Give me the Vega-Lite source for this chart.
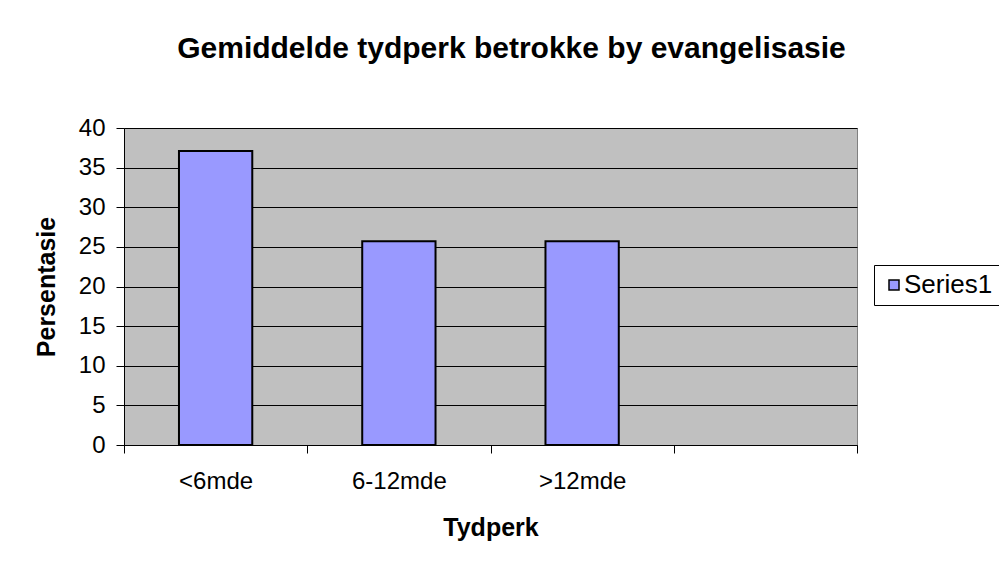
{
  "$schema": "https://vega.github.io/schema/vega-lite/v6.json",
  "autosize": {"type": "none"},
  "padding": {"left": 124, "top": 128, "right": 142, "bottom": 117},
  "width": 733,
  "height": 317,
  "background": "white",
  "title": {
    "text": "Gemiddelde tydperk betrokke by evangelisasie",
    "font": "Liberation Sans",
    "fontSize": 30,
    "fontWeight": "bold",
    "color": "black",
    "anchor": "middle",
    "dx": 21,
    "offset": 52
  },
  "data": {
    "values": [
      {"tydperk": "<6mde", "persentasie": 37.1, "reeks": "Series1"},
      {"tydperk": "6-12mde", "persentasie": 25.7, "reeks": "Series1"},
      {"tydperk": ">12mde", "persentasie": 25.7, "reeks": "Series1"}
    ]
  },
  "mark": {"type": "bar", "stroke": "black", "strokeWidth": 2, "width": {"band": 0.4}},
  "encoding": {
    "x": {
      "field": "tydperk",
      "type": "nominal",
      "sort": null,
      "scale": {"domain": ["<6mde", "6-12mde", ">12mde", " "], "paddingInner": 0, "paddingOuter": 0},
      "axis": {
        "title": "Tydperk",
        "labelAngle": 0,
        "tickBand": "extent",
        "tickSize": 8,
        "tickColor": "black",
        "domainColor": "black",
        "labelPadding": 16,
        "titlePadding": 22
      }
    },
    "y": {
      "field": "persentasie",
      "type": "quantitative",
      "scale": {"domain": [0, 40], "nice": false},
      "axis": {
        "title": "Persentasie",
        "values": [0, 5, 10, 15, 20, 25, 30, 35, 40],
        "tickSize": 8,
        "tickColor": "black",
        "domainColor": "black",
        "grid": true,
        "gridColor": "black",
        "gridOpacity": 1,
        "labelPadding": 11,
        "titlePadding": 19
      }
    },
    "color": {
      "field": "reeks",
      "type": "nominal",
      "scale": {"range": ["#9999FF"]},
      "legend": {
        "title": null,
        "orient": "none",
        "legendX": 750,
        "legendY": 137,
        "symbolType": "square",
        "symbolSize": 100,
        "symbolStrokeColor": "black",
        "symbolStrokeWidth": 1.5,
        "symbolOpacity": 1,
        "labelFontSize": 26,
        "labelFont": "Liberation Sans",
        "labelColor": "black",
        "labelOffset": -3,
        "strokeColor": "black",
        "padding": 7,
        "fillColor": "white"
      }
    }
  },
  "config": {
    "view": {"fill": "#C0C0C0", "stroke": "#808080", "strokeWidth": 1},
    "axis": {
      "labelFont": "Liberation Sans",
      "labelFontSize": 24,
      "labelColor": "black",
      "titleFont": "Liberation Sans",
      "titleFontSize": 25,
      "titleFontWeight": "bold",
      "titleColor": "black",
      "domainWidth": 1,
      "tickWidth": 1
    }
  }
}
